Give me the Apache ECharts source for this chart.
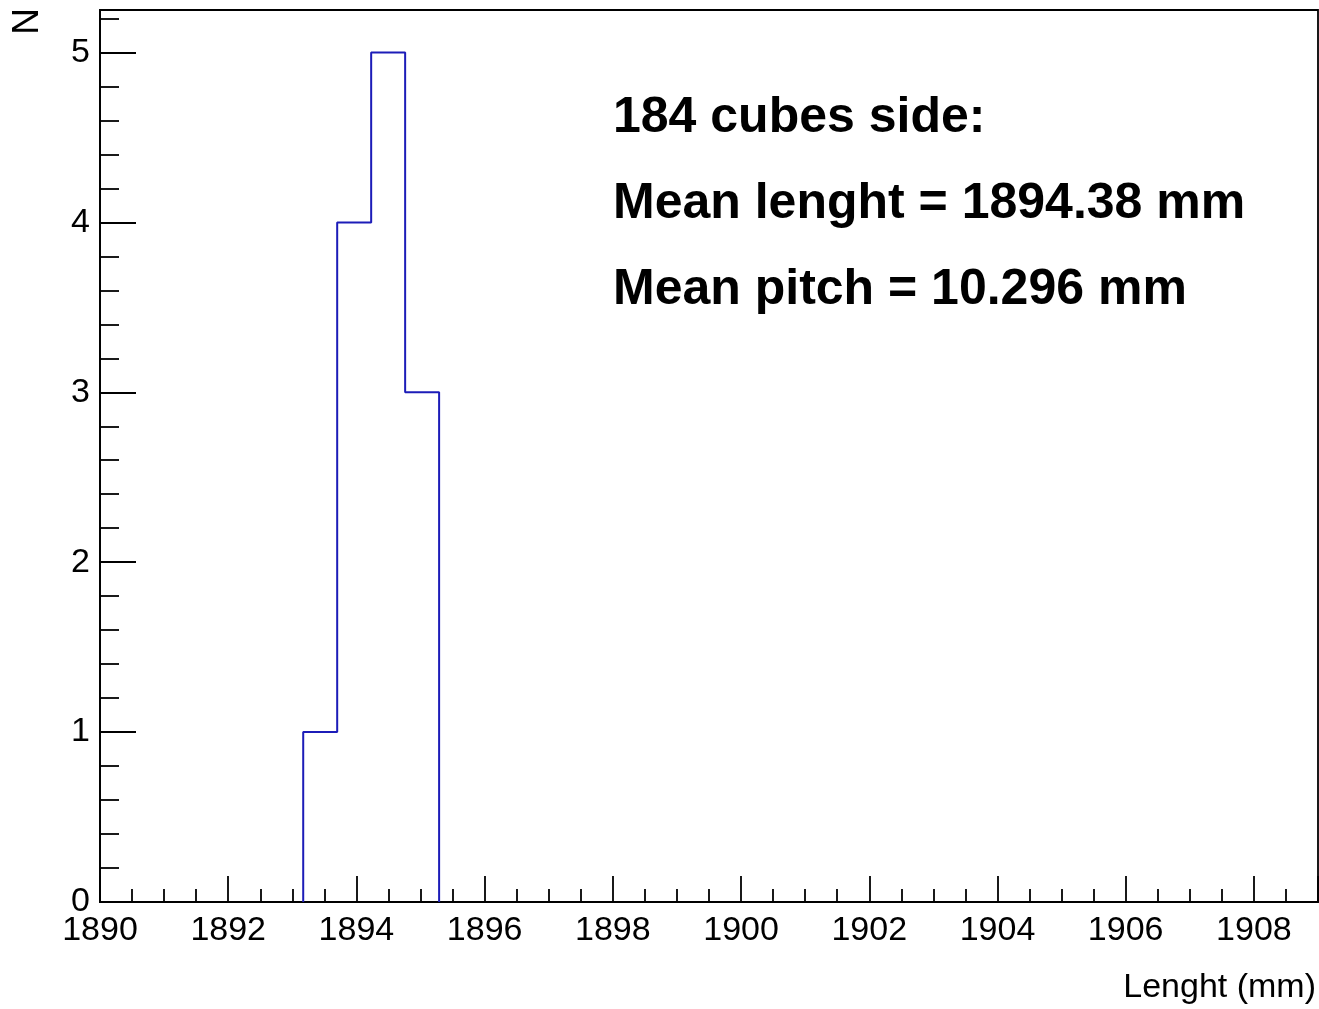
<!DOCTYPE html>
<html><head><meta charset="utf-8">
<script src="https://cdn.jsdelivr.net/npm/echarts@6/dist/echarts.min.js"></script>
<style>html,body{margin:0;padding:0;background:#fff}#c{width:1319px;height:1009px}</style>
</head><body><div id="c"></div>
<script>
// Histogram bin edges (mm) and counts
const binEdges = [1893.17, 1893.70, 1894.23, 1894.76, 1895.29];
const binCounts = [1, 4, 5, 3];
const infoLines = ['184 cubes side:', 'Mean lenght = 1894.38 mm', 'Mean pitch = 10.296 mm'];
const xTitle = 'Lenght (mm)';
const yTitle = 'N';

// Build histogram outline from the bins
const outline = [[binEdges[0], 0]];
for (let i = 0; i < binCounts.length; i++) {
  outline.push([binEdges[i], binCounts[i]]);
  outline.push([binEdges[i + 1], binCounts[i]]);
}
outline.push([binEdges[binEdges.length - 1], 0]);

const FONT = 'Liberation Sans';
const LW = 1.8;
const chart = echarts.init(document.getElementById('c'), null, {renderer: 'canvas'});
chart.setOption({
  animation: false,
  backgroundColor: '#fff',
  grid: {left: 100, right: 1, top: 10, bottom: 107, show: true, borderColor: '#000', borderWidth: LW, backgroundColor: 'transparent'},
  xAxis: {
    type: 'value', min: 1890, max: 1909, interval: 2,
    axisLine: {show: true, onZero: false, lineStyle: {color: '#000', width: LW}},
    axisTick: {show: true, inside: true, length: 26, lineStyle: {color: '#000', width: LW}},
    minorTick: {show: true, splitNumber: 4, length: 13, lineStyle: {color: '#000', width: LW}},
    splitLine: {show: false},
    axisLabel: {showMaxLabel: false, color: '#000', fontFamily: FONT, fontSize: 34, margin: 12,
      formatter: v => String(v)}
  },
  yAxis: {
    type: 'value', min: 0, max: 5.25, interval: 1,
    axisLine: {show: true, lineStyle: {color: '#000', width: LW}},
    axisTick: {show: true, inside: true, length: 36, lineStyle: {color: '#000', width: LW}},
    minorTick: {show: true, splitNumber: 5, length: 19, lineStyle: {color: '#000', width: LW}},
    splitLine: {show: false},
    axisLabel: {showMaxLabel: false, color: '#000', fontFamily: FONT, fontSize: 34, margin: 10,
      formatter: v => String(v)}
  },
  series: [{
    type: 'line', data: outline, symbol: 'none', silent: true,
    lineStyle: {color: '#1c1cb8', width: 2}
  }],
  graphic: [
    {type: 'text', x: 613, y: 118, style: {text: infoLines[0], font: 'bold 50px "Liberation Sans"', fill: '#000', verticalAlign: 'middle'}},
    {type: 'text', x: 613, y: 204, style: {text: infoLines[1], font: 'bold 50px "Liberation Sans"', fill: '#000', verticalAlign: 'middle'}},
    {type: 'text', x: 613, y: 290, style: {text: infoLines[2], font: 'bold 50px "Liberation Sans"', fill: '#000', verticalAlign: 'middle'}},
    {type: 'text', x: 1316, y: 988, style: {text: xTitle, font: '34px "Liberation Sans"', fill: '#000', align: 'right', verticalAlign: 'middle'}},
    {type: 'text', x: 28, y: 8, rotation: Math.PI / 2, style: {text: yTitle, font: '37px "Liberation Sans"', fill: '#000', align: 'right', verticalAlign: 'middle'}}
  ]
});
</script></body></html>
